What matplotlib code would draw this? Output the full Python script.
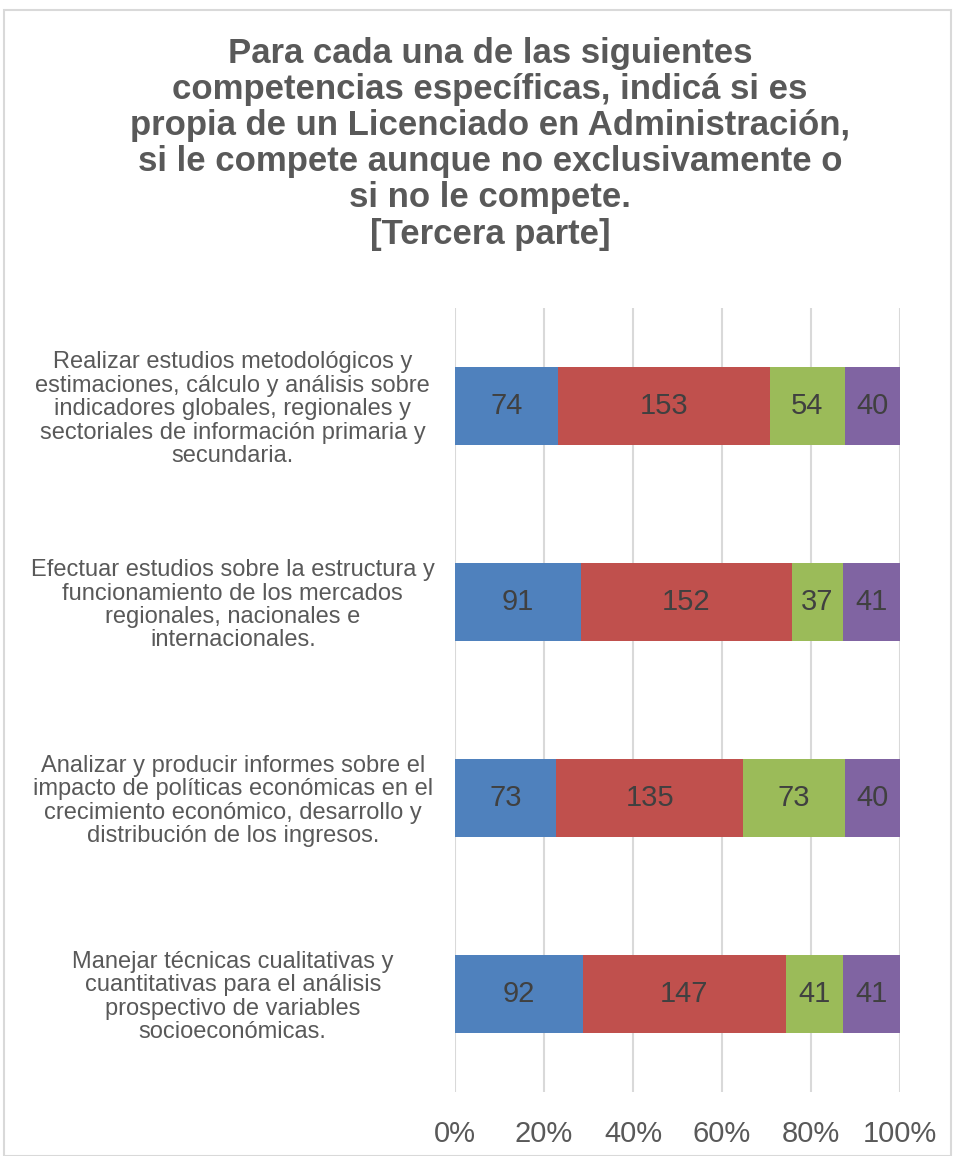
import matplotlib
matplotlib.use("Agg")
import matplotlib.pyplot as plt
import numpy as np
from matplotlib.patches import Rectangle

plt.rcParams['font.family'] = ['Liberation Sans', 'DejaVu Sans']

categories = [
    "Realizar estudios metodológicos y\nestimaciones, cálculo y análisis sobre\nindicadores globales, regionales y\nsectoriales de información primaria y\nsecundaria.",
    "Efectuar estudios sobre la estructura y\nfuncionamiento de los mercados\nregionales, nacionales e\ninternacionales.",
    "Analizar y producir informes sobre el\nimpacto de políticas económicas en el\ncrecimiento económico, desarrollo y\ndistribución de los ingresos.",
    "Manejar técnicas cualitativas y\ncuantitativas para el análisis\nprospectivo de variables\nsocioeconómicas.",
]
propia = [74, 91, 73, 92]
compete = [153, 152, 135, 147]
no_exclusiva = [54, 37, 73, 41]
no_compete = [40, 41, 40, 41]
series = [propia, compete, no_exclusiva, no_compete]
colors = ["#4F81BD", "#C0504D", "#9BBB59", "#8064A2"]
xticks = [0, 0.2, 0.4, 0.6, 0.8, 1.0]
xticklabels = ["0%", "20%", "40%", "60%", "80%", "100%"]

title = ("Para cada una de las siguientes\ncompetencias específicas, indicá si es\n"
         "propia de un Licenciado en Administración,\nsi le compete aunque no exclusivamente o\n"
         "si no le compete.\n[Tercera parte]")

fig = plt.figure(figsize=(9.55, 11.56), dpi=100)
ax = fig.add_axes([455/955, 64/1156, 445/955, 784/1156])

data = np.array(series, dtype=float)
totals = data.sum(axis=0)
y = np.arange(len(categories))
left = np.zeros(len(categories))
for vals, col in zip(data, colors):
    frac = vals / totals
    ax.barh(y, frac, left=left, height=0.4, color=col, zorder=3)
    for yi, l, f, v in zip(y, left, frac, vals):
        ax.text(l + f / 2, yi, "%d" % v, ha="center", va="center",
                fontsize=21, color="#404040", zorder=4)
    left += frac

ax.set_ylim(len(categories) - 0.5, -0.5)
ax.set_xlim(0, 1)
ax.set_yticks(y)
ax.set_yticklabels(categories, fontsize=17, color="#595959", ha="center", linespacing=1.08)
ax.tick_params(axis="y", length=0, pad=160)
ax.set_xticks(xticks)
ax.set_xticklabels(xticklabels, fontsize=21, color="#595959")
ax.tick_params(axis="x", length=0, pad=20)
ax.grid(axis="x", color="#D9D9D9", linewidth=1.5, zorder=0)
for s in ax.spines.values():
    s.set_visible(False)

fig.text(490/955, 1 - 37/1156, title, ha="center", va="top", fontsize=25,
         fontweight="bold", color="#595959", linespacing=1.12)

fig.patches.append(Rectangle((4/955, 0), 947/955, 1 - 10/1156, transform=fig.transFigure,
                             fill=False, edgecolor="#D9D9D9", linewidth=1.5))

fig.savefig("out.png", dpi=100)
